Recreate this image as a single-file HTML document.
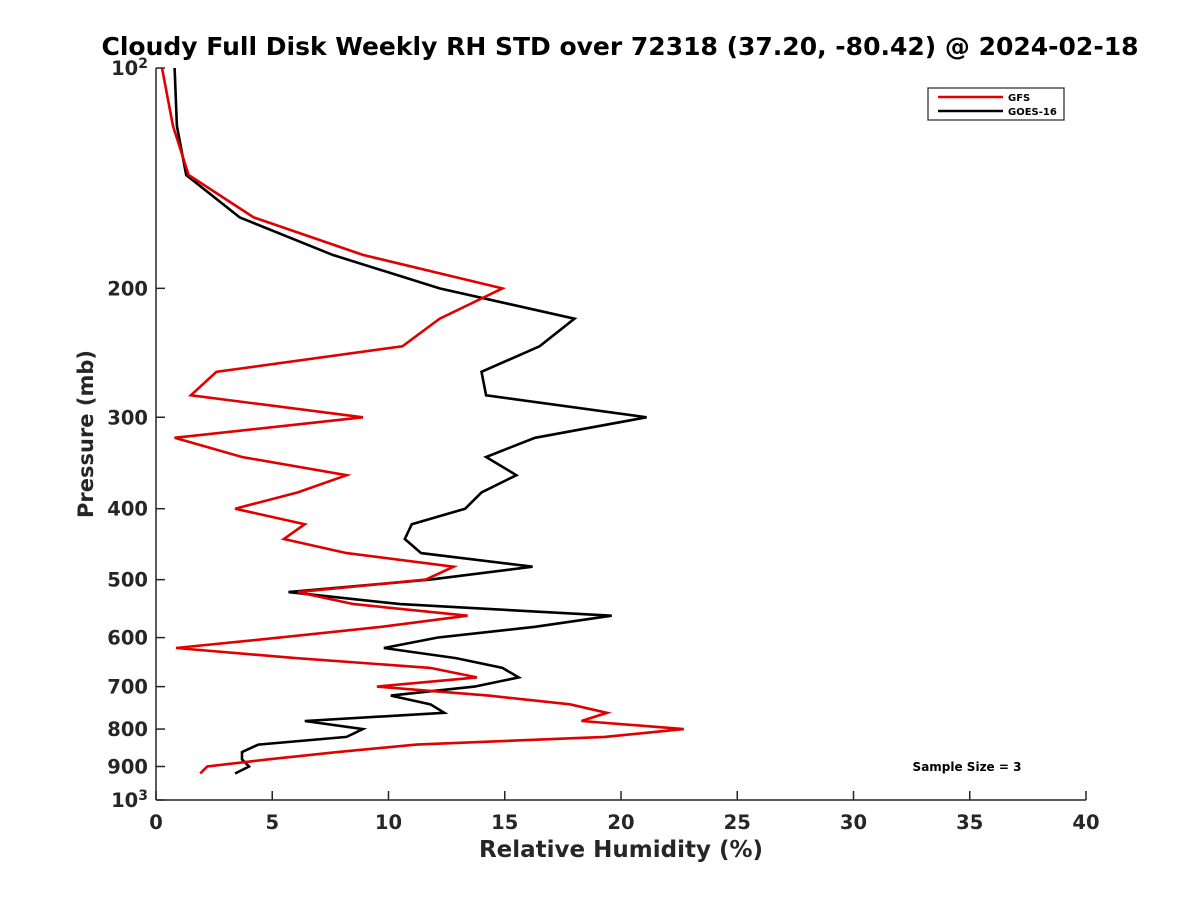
<!DOCTYPE html>
<html><head><meta charset="utf-8"><style>
body{margin:0;background:#fff;}
svg{display:block;font-family:"DejaVu Sans","Liberation Sans",sans-serif;font-weight:bold;}
</style></head><body>
<svg id="chart" width="1200" height="900" xmlns="http://www.w3.org/2000/svg">
<rect width="1200" height="900" fill="#fff"/>
<text x="620" y="55" text-anchor="middle" font-size="25" fill="#000">Cloudy Full Disk Weekly RH STD over 72318 (37.20, -80.42) @ 2024-02-18</text>
<g id="axes"></g>
<g id="series"></g>
<text x="621" y="857" text-anchor="middle" font-size="23" fill="#262626">Relative Humidity (%)</text>
<text transform="translate(93,434) rotate(-90)" text-anchor="middle" font-size="21" fill="#262626">Pressure (mb)</text>
<text x="967" y="771" text-anchor="middle" font-size="12" fill="#000">Sample Size = 3</text>
<g>
<rect x="928" y="88" width="136" height="32" fill="#fff" stroke="#262626" stroke-width="1.2"/>
<line x1="938" y1="97" x2="1003" y2="97" stroke="#e00000" stroke-width="2.5"/>
<text x="1008" y="101" font-size="10" fill="#000">GFS</text>
<line x1="938" y1="111" x2="1003" y2="111" stroke="#000" stroke-width="2.5"/>
<text x="1008" y="115" font-size="10" fill="#000">GOES-16</text>
</g>
</svg>
<script>
const pressures=[100,120,140,160,180,200,220,240,260,280,300,320,340,360,380,400,420,440,460,480,500,520,540,560,580,600,620,640,660,680,700,720,740,760,780,800,820,840,860,880,900,920];
const gfsValues=[0.26,0.73,1.4,4.2,8.9,14.9,12.2,10.6,2.6,1.5,8.9,0.8,3.7,8.2,6.1,3.4,6.4,5.5,8.2,12.8,11.6,6.1,8.5,13.4,9.7,5.3,0.86,6.0,11.8,13.8,9.5,14.3,17.8,19.4,18.3,22.7,19.3,11.2,7.8,4.8,2.2,1.9];
const goesValues=[0.8,0.9,1.3,3.6,7.6,12.2,18.0,16.5,14.0,14.2,21.1,16.3,14.2,15.5,14.0,13.3,11.0,10.7,11.4,16.2,11.8,5.7,10.5,19.6,16.3,12.1,9.8,12.9,14.9,15.6,13.7,10.1,11.8,12.4,6.4,8.9,8.2,4.4,3.7,3.7,4.0,3.4];
const xTicks=[0,5,10,15,20,25,30,35,40];
const yTicks=[100,200,300,400,500,600,700,800,900,1000];
const yTickLabels=["10|2","200","300","400","500","600","700","800","900","10|3"];
const NS="http://www.w3.org/2000/svg";
const X0=156,X1=1086,Y0=68,Y1=800;
function xs(v){return X0+(v-0)/(40-0)*(X1-X0);}
function ys(p){return Y0+Math.log10(p/100)*(Y1-Y0);}
function mk(tag,attrs,parent){const e=document.createElementNS(NS,tag);for(const k in attrs)e.setAttribute(k,attrs[k]);parent.appendChild(e);return e;}
const ax=document.getElementById('axes');
let l=mk('line',{x1:X0,y1:Y0,x2:X0,y2:Y1,stroke:'#262626','stroke-width':1.5},ax);


l=mk('line',{x1:X0,y1:Y1,x2:X1,y2:Y1,stroke:'#262626','stroke-width':1.5},ax);


xTicks.forEach(v=>{
 const t=mk('line',{x1:xs(v),y1:Y1,x2:xs(v),y2:Y1-9,stroke:'#262626','stroke-width':1.5},ax);
 
 
 const tx=mk('text',{x:xs(v),y:Y1+29,'text-anchor':'middle','font-size':19.5,fill:'#262626'},ax);
 tx.textContent=String(v);
 
 
});
yTicks.forEach((p,i)=>{
 const t=mk('line',{x1:X0,y1:ys(p),x2:X0+9,y2:ys(p),stroke:'#262626','stroke-width':1.5},ax);
 
 
 const parts=yTickLabels[i].split('|');
 const tx=mk('text',{x:X0-8,y:ys(p)+7,'text-anchor':'end','font-size':19.5,fill:'#262626'},ax);
 
 
 if(parts.length>1){
  const a=mk('tspan',{},tx);a.textContent=parts[0];
  const b=mk('tspan',{dy:-7,'font-size':14},tx);b.textContent=parts[1];
 } else tx.textContent=parts[0];
});
const sg=document.getElementById('series');
function line(vals,color,name){
 const pts=vals.map((v,i)=>xs(v).toFixed(1)+','+ys(pressures[i]).toFixed(1)).join(' ');
 const pl=mk('polyline',{points:pts,fill:'none',stroke:color,'stroke-width':2.6,'stroke-linejoin':'miter'},sg);
 
 
}
line(goesValues,'#000','goes16-line');
line(gfsValues,'#e00000','gfs-line');
</script>
</body></html>
